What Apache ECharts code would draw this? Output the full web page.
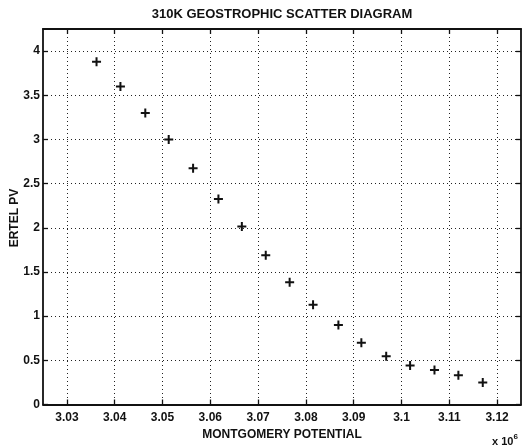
<!DOCTYPE html>
<html>
<head>
<meta charset="utf-8">
<script src="https://cdn.jsdelivr.net/npm/echarts@6/dist/echarts.min.js"></script>
<style>
  html, body { margin: 0; padding: 0; background: #fff; }
  #chart { width: 528px; height: 448px; }
</style>
</head>
<body>
<div id="chart"></div>
<script>
// Montgomery potential (x 10^6) and Ertel PV on the 310K surface
const montgomery = [3.0362, 3.0412, 3.0464, 3.0513, 3.0564, 3.0617, 3.0666, 3.0716, 3.0766,
                    3.0815, 3.0868, 3.0916, 3.0968, 3.1018, 3.1069, 3.1119, 3.1170];
const ertelPV = [3.88, 3.60, 3.30, 3.00, 2.675, 2.325, 2.015, 1.69, 1.385,
                 1.13, 0.90, 0.70, 0.545, 0.44, 0.39, 0.33, 0.25];

const xTickValues = [3.03, 3.04, 3.05, 3.06, 3.07, 3.08, 3.09, 3.10, 3.11, 3.12];
const xTickLabels = ['3.03', '3.04', '3.05', '3.06', '3.07', '3.08', '3.09', '3.1', '3.11', '3.12'];
const yTickValues = [0, 0.5, 1, 1.5, 2, 2.5, 3, 3.5, 4];
const yTickLabels = ['0', '0.5', '1', '1.5', '2', '2.5', '3', '3.5', '4'];

const FONT = 'Liberation Sans, Arial, Helvetica, sans-serif';
const INK = '#111';

const chart = echarts.init(document.getElementById('chart'), null, { renderer: 'canvas' });

const frameLine = () => ({ show: true, onZero: false, lineStyle: { color: INK, width: 1.8 } });
const innerTick = (vals) => ({
  show: true, inside: true, length: 5, customValues: vals,
  lineStyle: { color: INK, width: 1.3 }
});
const dottedGrid = { show: true, lineStyle: { color: '#222', width: 1, type: [1, 3] } };

const xLabelMap = {};
xTickValues.forEach((v, i) => { xLabelMap[v.toFixed(2)] = xTickLabels[i]; });
const yLabelMap = {};
yTickValues.forEach((v, i) => { yLabelMap[v.toFixed(1)] = yTickLabels[i]; });

chart.setOption({
  animation: false,
  backgroundColor: '#fff',
  grid: { left: 43, right: 7, top: 29, bottom: 43.5, containLabel: false, outerBoundsMode: 'none' },
  xAxis: [
    {
      type: 'value', min: 3.025, max: 3.125, position: 'bottom',
      axisLine: frameLine(),
      axisTick: innerTick(xTickValues),
      axisLabel: {
        customValues: xTickValues, margin: 7,
        color: INK, fontFamily: FONT, fontWeight: 'bold', fontSize: 12,
        formatter: v => xLabelMap[v.toFixed(2)] || ''
      },
      splitLine: dottedGrid,
      name: 'MONTGOMERY POTENTIAL', nameLocation: 'middle', nameGap: 18,
      nameTextStyle: { color: INK, fontFamily: FONT, fontWeight: 'bold', fontSize: 12 }
    },
    {
      type: 'value', min: 3.025, max: 3.125, position: 'top',
      axisLine: frameLine(),
      axisTick: innerTick(xTickValues),
      axisLabel: { show: false },
      splitLine: { show: false }
    }
  ],
  yAxis: [
    {
      type: 'value', min: 0, max: 4.25, position: 'left',
      axisLine: frameLine(),
      axisTick: innerTick(yTickValues),
      axisLabel: {
        customValues: yTickValues, margin: 3,
        color: INK, fontFamily: FONT, fontWeight: 'bold', fontSize: 12,
        formatter: v => yLabelMap[v.toFixed(1)] || ''
      },
      splitLine: dottedGrid
    },
    {
      type: 'value', min: 0, max: 4.25, position: 'right',
      axisLine: frameLine(),
      axisTick: innerTick(yTickValues),
      axisLabel: { show: false },
      splitLine: { show: false }
    }
  ],
  graphic: [
    {
      type: 'text', x: 282, y: 14,
      style: {
        text: '310K GEOSTROPHIC SCATTER DIAGRAM',
        fill: INK, font: 'bold 13px ' + FONT,
        align: 'center', verticalAlign: 'middle'
      }
    },
    {
      type: 'text', x: 15, y: 218, rotation: Math.PI / 2,
      style: {
        text: 'ERTEL PV',
        fill: INK, font: 'bold 12px ' + FONT,
        align: 'center', verticalAlign: 'middle'
      }
    },
    {
      type: 'text', x: 492, y: 430,
      style: {
        text: '{b|x 10}{s|6}',
        rich: {
          b: { fill: INK, font: 'bold 11px ' + FONT, padding: [6, 0, 0, 0] },
          s: { fill: INK, font: 'bold 8px ' + FONT, padding: [0, 0, 4, 0] }
        },
        fill: INK
      }
    }
  ],
  series: [
    {
      type: 'scatter',
      xAxisIndex: 0, yAxisIndex: 0,
      data: montgomery.map((x, i) => [x, ertelPV[i]]),
      symbol: 'path://M3.5,0H5.5V3.5H9V5.5H5.5V9H3.5V5.5H0V3.5H3.5Z',
      symbolSize: 9,
      itemStyle: { color: INK, opacity: 1 },
      emphasis: { disabled: true }
    }
  ]
});
</script>
</body>
</html>
